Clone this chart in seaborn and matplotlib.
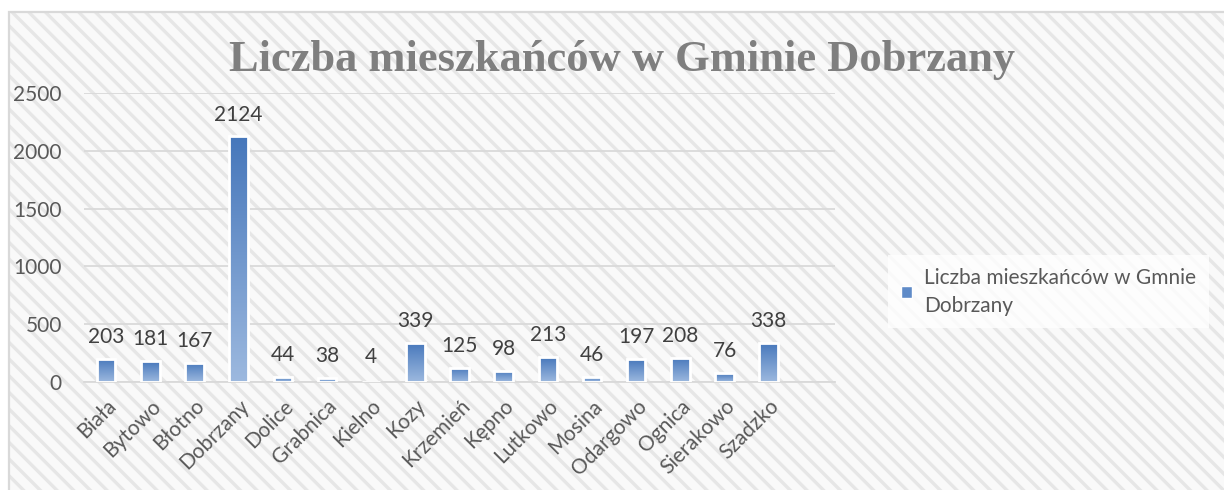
import matplotlib
matplotlib.use("Agg")
import matplotlib.pyplot as plt
import numpy as np
import seaborn as sns
from matplotlib.colors import LinearSegmentedColormap
from matplotlib.patches import Rectangle

# data
villages = ["Biała", "Bytowo", "Błotno", "Dobrzany", "Dolice", "Grabnica", "Kielno", "Kozy",
            "Krzemień", "Kępno", "Lutkowo", "Mosina", "Odargowo", "Ognica", "Sierakowo", "Szadzko"]
residents = [203, 181, 167, 2124, 44, 38, 4, 339, 125, 98, 213, 46, 197, 208, 76, 338]
y_ticks = [0, 500, 1000, 1500, 2000, 2500]
title = "Liczba mieszkańców w Gminie Dobrzany"
series_name = "Liczba mieszkańców w Gmnie\nDobrzany"

TOP_BLUE = "#4677bb"
BOTTOM_BLUE = "#9db9df"
TICK_GREY = "#595959"
LABEL_GREY = "#404040"
GRID_GREY = "#d9d9d9"

sns.set_theme(style="white")
plt.rcParams["font.family"] = ["Lato", "DejaVu Sans"]
plt.rcParams["hatch.linewidth"] = 2.4

W, H = 1224, 490
fig = plt.figure(figsize=(W / 100, H / 100), dpi=100)
fig.patch.set_facecolor("white")

# striped chart-area background + border (top/left visible only)
x0, ytop = 9 / W, 1 - 12 / H
fig.patches.append(Rectangle((x0, -0.1), 1.2, ytop + 0.1, transform=fig.transFigure,
                             facecolor="#f9f9f9", edgecolor="#e6e6e6", hatch="\\\\", lw=0, zorder=-3))
fig.patches.append(Rectangle((x0, -0.1), 1.2, ytop + 0.1, transform=fig.transFigure,
                             facecolor="none", edgecolor=GRID_GREY, lw=1.6, zorder=-2))

ax = fig.add_axes([84 / W, 1 - 382 / H, (835 - 84) / W, (382 - 93) / H])
ax.set_facecolor("none")

sns.barplot(x=villages, y=residents, ax=ax, color=TOP_BLUE, width=0.42,
            edgecolor="white", linewidth=2.0, zorder=3)

cmap = LinearSegmentedColormap.from_list("bar_grad", [BOTTOM_BLUE, TOP_BLUE])
grad = np.linspace(0, 1, 256).reshape(-1, 1)
for patch in ax.patches:
    bx, by = patch.get_x(), patch.get_y()
    bw, bh = patch.get_width(), patch.get_height()
    im = ax.imshow(grad, cmap=cmap, origin="lower", aspect="auto",
                   extent=(bx, bx + bw, by, by + bh), zorder=2.5)
    im.set_clip_path(patch)
    patch.set_facecolor("none")

for i, v in enumerate(residents):
    ax.text(i, max(v + 190, 215), str(v), ha="center", va="center",
            fontsize=15, color=LABEL_GREY, zorder=4)

ax.set_xlim(-0.5, len(villages) + 0.5)
ax.set_ylim(0, 2500)
ax.set_yticks(y_ticks)
ax.set_xticks(range(len(villages)))
ax.set_xticklabels(villages, rotation=45, ha="right", rotation_mode="anchor")
ax.tick_params(axis="y", length=0, pad=16, labelsize=15, labelcolor=TICK_GREY)
ax.tick_params(axis="x", length=0, pad=10, labelsize=15, labelcolor=TICK_GREY)
ax.grid(axis="y", color=GRID_GREY, lw=1.3, zorder=1)
ax.grid(axis="x", visible=False)
ax.set_axisbelow(True)
for side in ["left", "right", "top"]:
    ax.spines[side].set_visible(False)
ax.spines["bottom"].set_color(GRID_GREY)
ax.spines["bottom"].set_linewidth(1.3)
ax.set_xlabel("")
ax.set_ylabel("")

fig.text(622 / W, 1 - 60 / H, title, ha="center", va="center", fontsize=32,
         fontweight="bold", color="#7f7f7f", family=["Liberation Serif", "DejaVu Serif"])

handle = Rectangle((0, 0), 1, 1, facecolor="#5f8bc8", edgecolor="white", lw=1.0)
leg = fig.legend([handle], [series_name], loc="upper left",
                 bbox_to_anchor=(888 / W, 1 - 255 / H), frameon=True, fancybox=False,
                 fontsize=15, labelcolor=TICK_GREY, handlelength=0.55, handleheight=0.55,
                 handletextpad=0.6, borderpad=0.6, borderaxespad=0)
leg.get_frame().set_facecolor("white")
leg.get_frame().set_alpha(0.8)
leg.get_frame().set_linewidth(0)
for t in leg.get_texts():
    t.set_linespacing(1.5)

fig.savefig("out.png", dpi=100)
